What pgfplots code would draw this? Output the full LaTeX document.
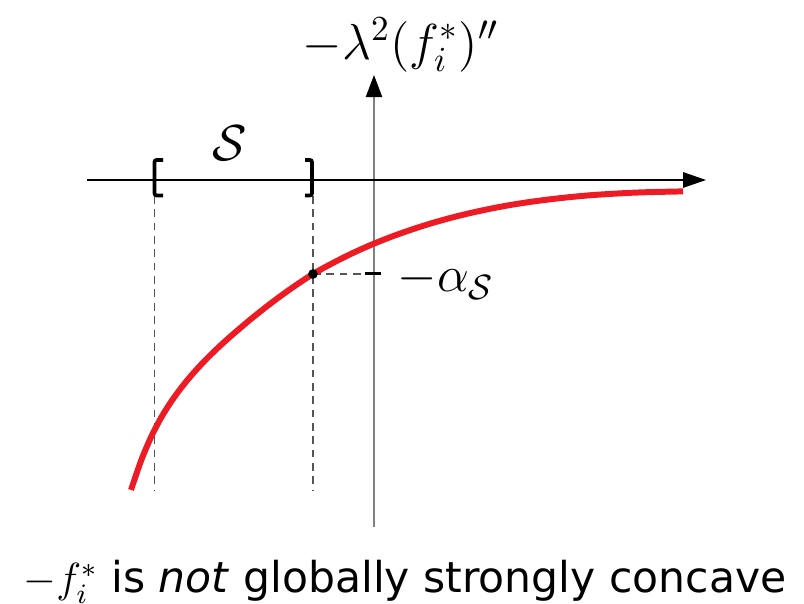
\documentclass[border=0pt]{standalone}
\usepackage{pgfplots}
\pgfplotsset{compat=1.18}
\usepackage{fontspec}
\setmainfont{DejaVu Sans}
\usetikzlibrary{arrows.meta}
\definecolor{curvered}{HTML}{ED1C24}
\definecolor{dashgray}{HTML}{555555}
\begin{document}
\begin{tikzpicture}
\begin{axis}[
  width=8.04cm, height=6.04cm, scale only axis,
  xmin=0, xmax=804, ymin=0, ymax=604, y dir=reverse,
  axis lines=none, clip=false,
]
% canvas
\path (axis cs:0,0) rectangle (axis cs:804,604);

% dashed guides for the interval S and the level -alpha_S
\draw[dashgray, line width=0.35pt, dash pattern=on 2.2pt off 1.6pt]
  (axis cs:154.5,196) -- (axis cs:154.5,490);
\draw[dashgray, line width=0.35pt, dash pattern=on 2.2pt off 1.6pt]
  (axis cs:313,196) -- (axis cs:313,490);
\draw[dashgray, line width=0.35pt, dash pattern=on 2.2pt off 1.6pt]
  (axis cs:313,274) -- (axis cs:374,274);

% vertical axis
\draw[gray, line width=0.55pt, -{Triangle[length=6.3pt,width=4.6pt,color=black]}]
  (axis cs:374,527) -- (axis cs:374,75);
% horizontal axis
\draw[black, line width=0.35pt, -{Triangle[length=6.5pt,width=4.4pt]}]
  (axis cs:87,180) -- (axis cs:706,180);

% tick at -alpha_S
\draw[black, line width=0.8pt] (axis cs:365,273.5) -- (axis cs:381,273.5);

% interval brackets
\draw[black, line width=1.05pt, rounded corners=0.6pt]
  (axis cs:163,160) -- (axis cs:154.5,160) -- (axis cs:154.5,195.5) -- (axis cs:163,195.5);
\draw[black, line width=1.05pt, rounded corners=0.6pt]
  (axis cs:305,160) -- (axis cs:312,160) -- (axis cs:312,195.5) -- (axis cs:305,195.5);

% the curve -lambda^2 (f_i^*)''
\addplot[curvered, line width=1.7pt, smooth] coordinates {
  (131,490) (141,460.9) (151,437.2) (161,417.9) (171,401.9) (181,388.1)
  (191,375.8) (201,364.7) (211,354.5) (221,345.0) (231,336.0) (251,319.0)
  (271,303.2) (291,288.6) (313,274) (331,264.0) (351,253.9) (371,244.9)
  (391,236.9) (411,229.8) (431,223.4) (451,217.8) (471,212.9) (491,208.6)
  (511,204.9) (531,201.8) (551,199.2) (571,197.0) (591,195.2) (611,193.9)
  (631,192.8) (651,192.1) (683,191.4)
};

% point where the curve meets -alpha_S
\addplot[only marks, mark=*, mark size=1.15pt, black] coordinates {(313,274)};

% labels
\node[font=\fontsize{14}{16}\selectfont] at (axis cs:401,45) {$-\lambda^2(f_i^*)''$};
\node[font=\fontsize{14}{16}\selectfont] at (axis cs:230,143) {$\mathcal{S}$};
\node[font=\fontsize{14}{16}\selectfont, anchor=base west, inner sep=0pt]
  at (axis cs:397,292) {$-\alpha_{\mathcal{S}}$};
\node[font=\fontsize{12.1}{14}\selectfont, anchor=base, inner sep=0pt]
  at (axis cs:405,593) {$-f_i^*$ is \textit{not} globally strongly concave};
\end{axis}
\end{tikzpicture}
\end{document}
